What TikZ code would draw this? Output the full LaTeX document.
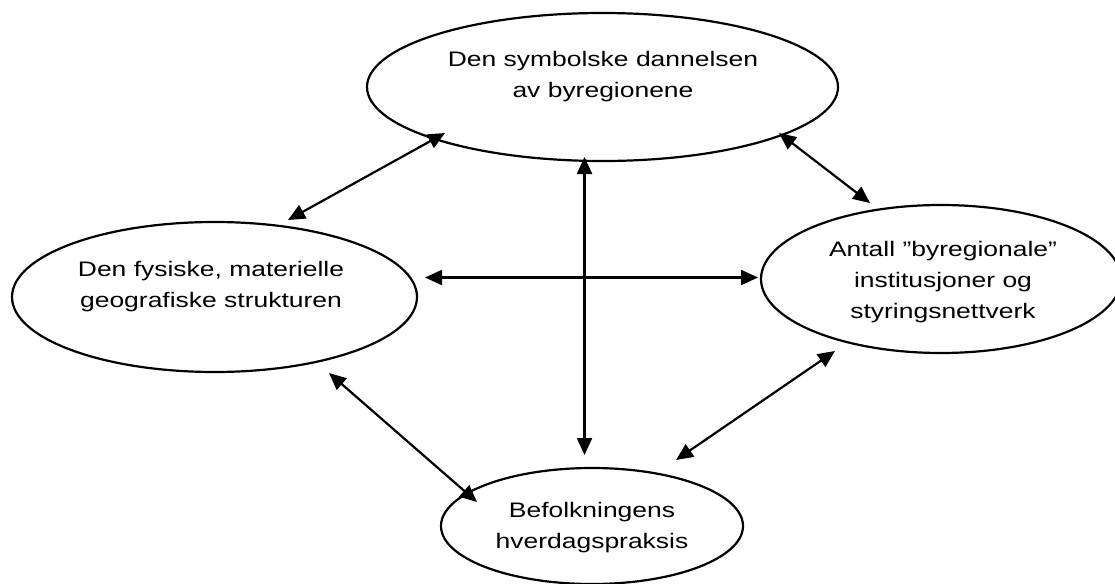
\documentclass[tikz,border=0pt]{standalone}
\usepackage{fontspec}
\setmainfont{Liberation Sans}[FakeStretch=1.26]
\usetikzlibrary{arrows.meta,shapes.geometric}
\begin{document}
\begin{tikzpicture}[x=1pt,y=-1pt,
  oval/.style={draw=black, line width=2.2pt, ellipse, inner sep=0pt},
  lbl/.style={align=center, inner sep=0pt, font=\fontsize{21}{31}\selectfont},
  link/.style={line width=2.2pt, {Triangle[length=17pt,width=15pt]}-{Triangle[length=17pt,width=15pt]}}]
\useasboundingbox (0,0) rectangle (1115,583);
\node[oval, minimum width=471pt, minimum height=148pt] (topE) at (602.5,87) {};
\node[oval, minimum width=405pt, minimum height=150pt] (leftE) at (214.5,297) {};
\node[oval, minimum width=360pt, minimum height=148pt] (rightE) at (941,279) {};
\node[oval, minimum width=302pt, minimum height=116pt] (botE) at (592,526) {};
\node[lbl] (topT) at (603,77) {Den symbolske dannelsen\\av byregionene};
\node[lbl] (leftT) at (211,287) {Den fysiske, materielle\\geografiske strukturen};
\node[lbl] (rightT) at (943,282.5) {Antall ”byregionale”\\institusjoner og\\styringsnettverk};
\node[lbl] (botT) at (592,528) {Befolkningens\\hverdagspraksis};
\coordinate (tl1) at (445,133); \coordinate (tl2) at (288,220);
\coordinate (tr1) at (779,133); \coordinate (tr2) at (870,203);
\coordinate (v1) at (584.5,157); \coordinate (v2) at (584.5,455);
\coordinate (h1) at (425,277.5); \coordinate (h2) at (758,277.5);
\coordinate (bl1) at (329,373); \coordinate (bl2) at (477,502);
\coordinate (br1) at (835,351); \coordinate (br2) at (676,460);
\draw[link] (tl1) -- (tl2);
\draw[link] (tr1) -- (tr2);
\draw[link] (v1) -- (v2);
\draw[link] (h1) -- (h2);
\draw[link] (bl1) -- (bl2);
\draw[link] (br1) -- (br2);
\end{tikzpicture}
\end{document}
